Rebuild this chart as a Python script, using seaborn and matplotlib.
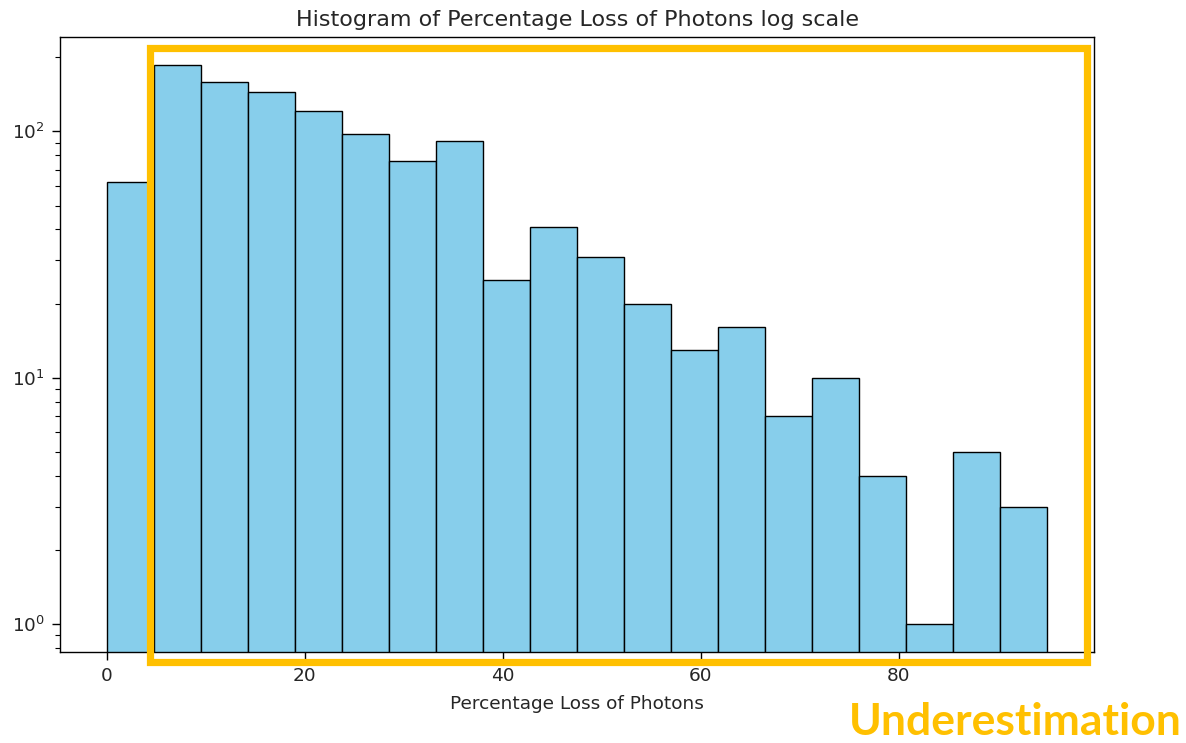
import numpy as np
import pandas as pd
import seaborn as sns
import matplotlib
matplotlib.use("Agg")
import matplotlib.pyplot as plt
from matplotlib.patches import Rectangle

# Histogram bins (percentage loss) and counts per bin
bin_edges = [0.0, 4.75, 9.5, 14.25, 19.0, 23.75, 28.5, 33.25, 38.0, 42.75, 47.5,
             52.25, 57.0, 61.75, 66.5, 71.25, 76.0, 80.75, 85.5, 90.25, 95.0]
bin_counts = [62, 186, 159, 144, 121, 98, 76, 91, 25, 41, 31,
              20, 13, 16, 7, 10, 4, 1, 5, 3]
x_ticks = [0, 20, 40, 60, 80]

centers = [(a + b) / 2 for a, b in zip(bin_edges[:-1], bin_edges[1:])]
df = pd.DataFrame({"loss": centers, "count": bin_counts})

sns.set_style("white")
plt.rcParams["font.family"] = ["DejaVu Sans"]

fig = plt.figure(figsize=(11.86, 7.43), dpi=100)
ax = fig.add_axes([60 / 1186, 1 - 652 / 743, (1094 - 60) / 1186, (652 - 37) / 743])

sns.histplot(data=df, x="loss", weights="count", bins=bin_edges,
             color="skyblue", edgecolor="black", linewidth=1.0, alpha=1.0,
             ax=ax)
ax.set_yscale("log")
ax.margins(x=0.05, y=0.05)
ax.set_xticks(x_ticks)
ax.set_title("Histogram of Percentage Loss of Photons log scale", fontsize=16, pad=8)
ax.set_xlabel("Percentage Loss of Photons", fontsize=13.3, labelpad=7)
ax.set_ylabel("")
ax.tick_params(axis="both", which="major", labelsize=13.3, length=6, width=1,
               bottom=True, left=True, color="black", pad=5)
ax.tick_params(axis="y", which="minor", length=3.5, width=0.8, left=True, color="black")
for s in ax.spines.values():
    s.set_color("black")
    s.set_linewidth(1.0)

# Highlight box and label
fig.patches.append(Rectangle((149.5 / 1186, 1 - 662 / 743), (1087 - 149.5) / 1186, (662 - 47.5) / 743,
                             transform=fig.transFigure, fill=False,
                             edgecolor="#FFC000", linewidth=5.2, zorder=10))
fig.text(1182 / 1186, 1 - 722 / 743, "Underestimation", ha="right", va="center",
         fontsize=32, fontweight="bold", color="#FFC000", family=["Lato", "DejaVu Sans"])

fig.savefig("out.png", dpi=100)
